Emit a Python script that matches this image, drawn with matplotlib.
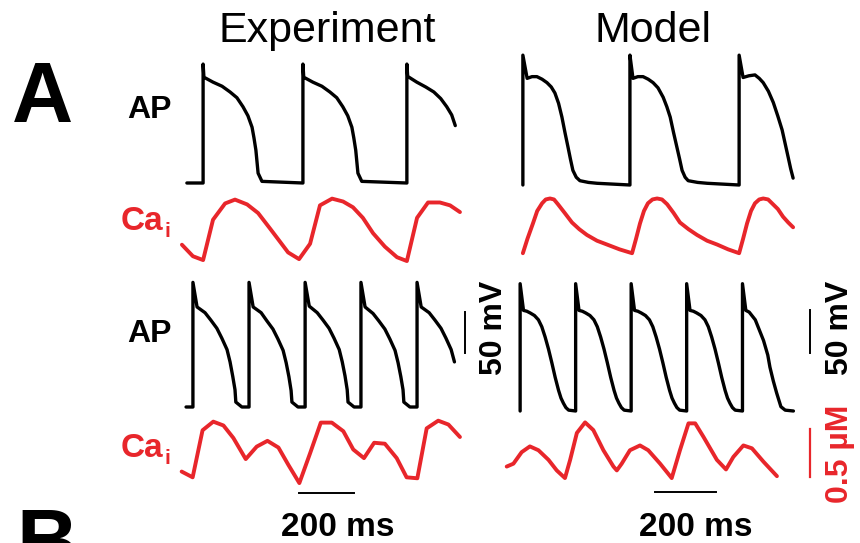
import matplotlib
matplotlib.use('Agg')
import matplotlib.pyplot as plt

plt.rcParams['font.family'] = ['Liberation Sans', 'DejaVu Sans']

RED = '#e8262b'
W, H = 860, 543

# ---- dados (t em ms, AP em mV, Ca em uM) ----

# Experimento, ritmo lento
exp_ap1_t = [25, 84, 84, 87, 120, 153, 182, 207, 229, 247, 262, 269, 276, 280, 284, 298, 447,
             447, 450, 483, 516, 545, 570, 592, 610, 625, 632, 639, 643, 647, 661, 825,
             825, 828, 861, 894, 923, 948, 970, 988, 1001]
exp_ap1_v = [-85, -85, 60, 44, 38, 33, 26, 19, 8, -3, -17, -30, -45, -59, -73, -83, -85,
             60, 44, 38, 33, 26, 19, 8, -3, -17, -30, -45, -59, -73, -83, -85,
             60, 45, 38, 32, 26, 18, 8, -2, -15]
exp_ca1_t = [7, 47, 84, 120, 164, 200, 244, 284, 327, 364, 393, 433, 473, 509, 553, 593, 629,
             665, 702, 745, 789, 825, 862, 902, 945, 982, 1018]
exp_ca1_c = [0.28, 0.16, 0.12, 0.54, 0.71, 0.75, 0.70, 0.61, 0.45, 0.31, 0.20, 0.13, 0.29, 0.69,
             0.76, 0.73, 0.67, 0.56, 0.40, 0.26, 0.15, 0.11, 0.56, 0.72, 0.72, 0.69, 0.62]

# Modelo, ritmo lento
mod_ap1_t = [75, 75, 89, 105, 121, 138, 154, 168, 180, 192, 203, 213, 223, 231, 239, 250, 262, 290, 318, 426,
             426, 436, 452, 469, 486, 502, 518, 535, 547, 558, 569, 580, 589, 597, 607, 617, 648, 679, 784,
             784, 797, 816, 836, 850, 863, 880, 896, 911, 925, 935, 945, 953, 961]
mod_ap1_v = [-85, 66, 39, 41, 41, 38, 34, 29, 22, 10, -6, -24, -41, -55, -68, -76, -80, -82, -83, -85,
             66, 39, 41, 41, 38, 34, 28, 17, 6, -6, -24, -41, -55, -68, -76, -80, -82, -83, -85,
             66, 40, 42, 43, 39, 34, 24, 11, -5, -21, -37, -53, -66, -77]
mod_ca1_t = [75, 90, 108, 122, 138, 150, 164, 177, 190, 212, 236, 260, 285, 318, 351, 392, 433,
             446, 459, 472, 485, 500, 515, 531, 548, 569, 590, 618, 646, 679, 712, 748, 784,
             797, 810, 823, 836, 850, 863, 879, 895, 911, 928, 945, 961]
mod_ca1_c = [0.15, 0.30, 0.46, 0.59, 0.67, 0.71, 0.72, 0.71, 0.66, 0.57, 0.47, 0.40, 0.34, 0.28, 0.24, 0.19, 0.15,
             0.30, 0.46, 0.59, 0.67, 0.71, 0.72, 0.71, 0.66, 0.57, 0.47, 0.40, 0.34, 0.28, 0.24, 0.19, 0.15,
             0.30, 0.46, 0.59, 0.67, 0.71, 0.72, 0.71, 0.66, 0.61, 0.53, 0.47, 0.42]

# Experimento, ritmo rapido (alternans)
exp_ap2_t = [22, 47, 47, 62, 91, 112, 134, 152, 171, 182, 192, 200, 203, 225, 251,
             251, 266, 295, 316, 338, 356, 375, 386, 396, 404, 407, 429, 455,
             455, 470, 499, 520, 542, 560, 579, 590, 600, 608, 611, 633, 658,
             658, 673, 702, 723, 745, 763, 782, 793, 803, 811, 814, 836, 862,
             862, 877, 906, 927, 949, 967, 986, 998]
exp_ap2_v = [-85, -85, 67, 37, 30, 21, 11, -1, -15, -30, -48, -64, -79, -85, -85,
             67, 37, 30, 20, 10, -2, -16, -31, -48, -65, -79, -85, -85,
             67, 38, 30, 21, 11, -1, -15, -30, -47, -64, -79, -85, -85,
             67, 37, 29, 20, 10, -2, -16, -31, -48, -64, -79, -85, -85,
             67, 37, 30, 21, 11, -1, -15, -30]
exp_ca2_t = [6, 46, 82, 121, 158, 194, 239, 279, 318, 358, 394, 434, 473, 512, 552, 594, 630,
             669, 706, 745, 788, 824, 863, 897, 939, 976, 1018]
exp_ca2_c = [0.24, 0.18, 0.67, 0.76, 0.72, 0.59, 0.37, 0.50, 0.56, 0.49, 0.31, 0.12, 0.43, 0.75,
             0.75, 0.66, 0.47, 0.38, 0.54, 0.53, 0.38, 0.18, 0.17, 0.69, 0.77, 0.73, 0.60]

# Modelo, ritmo rapido
mod_ap2_t = [66, 66, 77, 88, 99, 113, 126, 137, 148, 159, 170, 181, 192, 200, 208, 216, 225, 248,
             248, 259, 270, 281, 295, 308, 319, 330, 341, 352, 363, 374, 382, 390, 398, 407, 430,
             430, 441, 452, 463, 477, 490, 501, 512, 523, 534, 545, 556, 564, 572, 580, 589, 612,
             612, 623, 634, 645, 659, 672, 683, 694, 705, 716, 727, 738, 746, 754, 762, 771, 795,
             795, 806, 817, 837, 864, 878, 885, 896, 907, 921, 935, 962]
mod_ap2_v = [-85, 63, 32, 31, 29, 26, 21, 13, 1, -13, -29, -46, -61, -70, -76, -81, -84, -85,
             63, 32, 31, 29, 26, 21, 13, 1, -13, -29, -46, -61, -70, -76, -81, -84, -85,
             63, 32, 31, 29, 26, 21, 13, 1, -13, -29, -46, -61, -70, -76, -81, -84, -85,
             63, 32, 31, 29, 26, 21, 13, 1, -13, -29, -46, -61, -70, -76, -81, -84, -85,
             63, 32, 30, 21, -3, -20, -34, -50, -64, -80, -84, -85]
mod_ca2_t = [22, 44, 71, 98, 126, 159, 186, 213, 230, 252, 279, 306, 339, 372, 383, 399, 426,
             459, 486, 525, 563, 590, 618, 640, 667, 711, 741, 765, 798, 826, 864, 908]
mod_ca2_c = [0.24, 0.27, 0.39, 0.45, 0.41, 0.31, 0.20, 0.12, 0.31, 0.59, 0.70, 0.62, 0.41, 0.24,
             0.20, 0.27, 0.41, 0.46, 0.41, 0.27, 0.12, 0.41, 0.69, 0.69, 0.55, 0.31, 0.21, 0.34,
             0.46, 0.43, 0.29, 0.14]

fig = plt.figure(figsize=(W / 100, H / 100), dpi=100)


# cria um eixo invisivel numa caixa em pixels, com escala fixa
def trace_axes(box, t_left, ms_px, y_base, v_base, unit_px):
    l, t, r, b = box
    ax = fig.add_axes([l / W, 1 - b / H, (r - l) / W, (b - t) / H])
    ax.set_xlim((l - t_left) * ms_px, (r - t_left) * ms_px)
    ax.set_ylim(v_base + (y_base - b) * unit_px, v_base + (y_base - t) * unit_px)
    ax.axis('off')
    return ax


def trace(ax, t, v, color, lw):
    ax.plot(t, v, color=color, lw=lw, solid_joinstyle='round', solid_capstyle='round', clip_on=False)


exp_ms = 200 / 55
mod_ms = 200 / 61

ax = trace_axes((180, 50, 480, 200), 180, exp_ms, 183, -85, 50 / 41)
trace(ax, exp_ap1_t, exp_ap1_v, 'black', 2.4)
ax = trace_axes((180, 190, 480, 272), 180, exp_ms, 262, 0.1, 0.5 / 48)
trace(ax, exp_ca1_t, exp_ca1_c, RED, 2.8)

ax = trace_axes((500, 45, 830, 200), 500, mod_ms, 185, -85, 50 / 43)
trace(ax, mod_ap1_t, mod_ap1_v, 'black', 2.4)
ax = trace_axes((500, 190, 830, 272), 500, mod_ms, 258, 0.1, 0.5 / 48)
trace(ax, mod_ca1_t, mod_ca1_c, RED, 2.8)

ax = trace_axes((180, 272, 480, 420), 180, exp_ms, 407, -85, 50 / 41)
trace(ax, exp_ap2_t, exp_ap2_v, 'black', 2.4)
ax.plot([1036, 1036], [-19, 31], color='black', lw=1.4)          # 50 mV
ax = trace_axes((180, 410, 480, 505), 180, exp_ms, 485, 0.1, 0.5 / 48)
trace(ax, exp_ca2_t, exp_ca2_c, RED, 2.8)
ax.plot([433, 633], [0.017, 0.017], color='black', lw=1.4)        # 200 ms

ax = trace_axes((500, 272, 830, 420), 500, mod_ms, 411, -85, 50 / 43)
trace(ax, mod_ap2_t, mod_ap2_v, 'black', 2.4)
ax.plot([1017, 1017], [-17, 33], color='black', lw=1.4)          # 50 mV
ax = trace_axes((500, 410, 830, 505), 500, mod_ms, 480, 0.1, 0.5 / 48)
trace(ax, mod_ca2_t, mod_ca2_c, RED, 2.8)
ax.plot([508, 708], [-0.025, -0.025], color='black', lw=1.4)      # 200 ms
ax.plot([1017, 1017], [0.13, 0.63], color=RED, lw=1.6)            # 0.5 uM


def px(x, y):
    return x / W, 1 - y / H


# titulos e letras do painel
fig.text(*px(218, 42), 'Experiment', fontsize=31, va='baseline', ha='left')
fig.text(*px(594, 42), 'Model', fontsize=31, va='baseline', ha='left')
fig.text(*px(12, 122), 'A', fontsize=61, fontweight='bold', va='baseline', ha='left')
# o "B" do painel seguinte aparece cortado na borda inferior, como no original
fig.text(*px(16, 569), 'B', fontsize=61, fontweight='bold', va='baseline', ha='left')

for y in [118, 342]:
    fig.text(*px(127, y), 'AP', fontsize=23, fontweight='bold', va='baseline', ha='left')
for y in [230, 457]:
    fig.text(*px(121, y), 'Ca', fontsize=24, fontweight='bold', color=RED, va='baseline', ha='left')
    fig.text(*px(164, y + 7), 'i', fontsize=15, fontweight='bold', color=RED, va='baseline', ha='left')

# rotulos das barras de escala
fig.text(*px(494, 328), '50 mV', fontsize=23, fontweight='bold', rotation=90, ha='center', va='center')
fig.text(*px(840, 328), '50 mV', fontsize=23, fontweight='bold', rotation=90, ha='center', va='center')
fig.text(*px(840, 454), '0.5 µM', fontsize=23, fontweight='bold', rotation=90, ha='center', va='center',
         color=RED)
fig.text(*px(338, 536), '200 ms', fontsize=24, fontweight='bold', ha='center', va='baseline')
fig.text(*px(696, 536), '200 ms', fontsize=24, fontweight='bold', ha='center', va='baseline')

fig.savefig('out.png', dpi=100)
